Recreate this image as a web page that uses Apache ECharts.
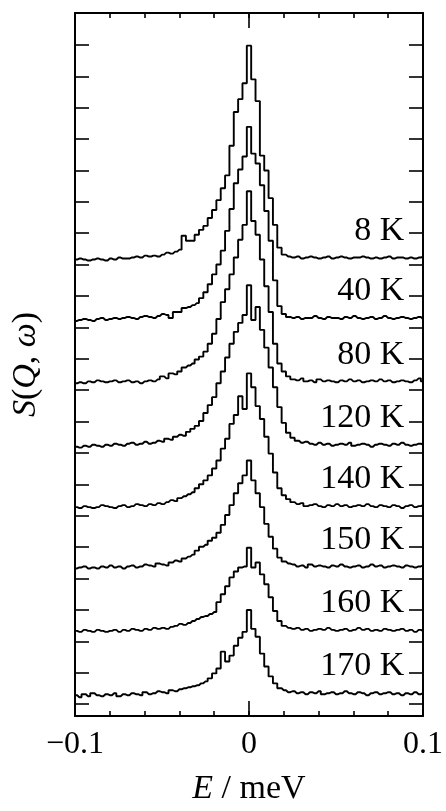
<!DOCTYPE html>
<html>
<head>
<meta charset="utf-8">
<script src="https://cdn.jsdelivr.net/npm/echarts@6.0.0/dist/echarts.min.js"></script>
<style>
  html, body { margin: 0; padding: 0; background: #fff; }
  #chart { width: 446px; height: 811px; }
</style>
</head>
<body>
<div id="chart"></div>
<script>
// bins of 0.0025 meV from -0.1 to 0.1 (81 bins)
const binWidth = 0.0025;
const energies = [];
for (let i = -40; i <= 40; i++) energies.push(+(i * binWidth).toFixed(4));

const temps = ['8 K', '40 K', '80 K', '120 K', '140 K', '150 K', '160 K', '170 K'];
// vertical offset of each spectrum (same units as y axis)
const offsets = [449, 388, 324, 260, 198, 137, 73, 9];

const s8K = [
  0, 1, 0, -1, 0, 1, 0, -1, 1, 0,
  2, 1, 1, 2, 3, 2, 4, 3, 4, 3,
  5, 7, 6, 8, 10, 24, 19, 19, 25, 30,
  34, 42, 50, 60, 72, 85, 115, 149, 162, 178,
  216,
  182, 160, 105, 90, 62, 35, 12, 5, 3, 2,
  3, 1, 2, 3, 2, 1, 2, 3, 1, 2,
  3, 2, 1, 2, 2, 3, 2, 1, 2, 1,
  2, 3, 1, 2, 2, 1, 2, 1, 2, 3];
const s40K = [
  -1, 0, 1, 0, -1, 1, 2, 0, 1, 2,
  1, 2, 3, 2, 1, 3, 4, 3, 2, 4,
  6, 5, 2, 8, 8, 12, 13, 15, 17, 22,
  28, 36, 46, 56, 70, 90, 112, 138, 152, 165,
  195,
  168, 158, 136, 110, 80, 40, 14, 6, 3, 2,
  3, 1, 2, 2, 4, 2, 1, 3, 2, 2,
  1, 3, 2, 4, 2, 1, 2, 3, 1, 2,
  4, 2, 1, 2, 3, 2, 1, 2, 3, 1];
const s80K = [
  0, 1, 0, 2, 1, 3, 2, 1, 2, 3,
  1, 2, 3, 1, 2, 0, 2, 3, 2, 4,
  7, 5, 10, 9, 12, 16, 18, 20, 24, 27,
  32, 40, 50, 65, 82, 95, 110, 127, 145, 160,
  194,
  164, 150, 125, 98, 72, 40, 20, 12, 7, 4,
  3, 5, 2, 3, 1, 4, 2, 3, 2, 1,
  3, 2, 4, 2, 3, 1, 2, 3, 2, 4,
  2, 3, 1, 2, 3, 2, 1, 3, 5, 2];
const s120K = [
  0, -1, 1, 0, 2, 1, 0, 2, 1, 3,
  2, 1, 3, 4, 2, 3, 5, 3, 4, 6,
  5, 8, 7, 10, 12, 11, 15, 18, 21, 26,
  34, 42, 50, 64, 76, 90, 104, 116, 125, 133,
  163,
  128, 141, 118, 100, 80, 60, 40, 24, 14, 9,
  6, 4, 5, 3, 2, 4, 2, 3, 1, 2,
  3, 2, 4, 1, 2, 3, 2, 0, 2, 3,
  2, 1, 3, 2, 4, 2, 1, 2, 3, 2];
const s140K = [
  1, 0, 2, 1, 0, 1, 3, 2, 1, 0,
  2, 3, 1, 2, 4, 3, 2, 4, 3, 5,
  4, 6, 8, 7, 10, 12, 14, 16, 20, 24,
  28, 33, 40, 48, 60, 70, 85, 94, 113, 100,
  136,
  122, 103, 90, 72, 55, 36, 20, 13, 9, 6,
  4, 5, 2, 3, 4, 2, 1, 3, 2, 4,
  2, 3, 1, 2, 3, 2, 4, 2, 1, 3,
  2, 1, 3, 2, 0, 2, 3, 1, 2, 3];
const s150K = [
  0, 1, 2, 0, 1, 0, 2, 1, 3, 1,
  2, 0, 2, 3, 1, 2, 4, 3, 2, 5,
  4, 3, 6, 8, 7, 10, 12, 14, 18, 22,
  24, 28, 31, 36, 44, 54, 64, 76, 86, 94,
  109,
  89, 76, 62, 45, 32, 20, 11, 7, 5, 4,
  2, 3, 1, 4, 2, 3, 2, 1, 3, 2,
  4, 2, 1, 2, 3, 1, 2, 4, 2, 3,
  1, 2, 3, 2, 1, 3, 2, 1, 2, 3];
const s160K = [
  1, 0, 2, 1, 0, 2, 1, 0, 1, 2,
  0, 2, 1, 3, 2, 1, 3, 2, 4, 3,
  4, 3, 5, 6, 8, 7, 9, 11, 13, 15,
  16, 18, 20, 30, 38, 46, 55, 61, 65, 66,
  85,
  65, 70, 58, 48, 35, 21, 11, 6, 4, 3,
  4, 2, 3, 1, 2, 3, 2, 4, 2, 1,
  2, 3, 1, 2, 4, 2, 3, 1, 2, 1,
  3, 2, 1, 2, 3, 1, 2, 0, 2, 1];
const s170K = [
  0, -2, 1, -1, 2, 0, -1, 1, 0, 2,
  -1, 1, 0, 2, 1, 0, 3, 1, 2, 4,
  3, 2, 5, 4, 6, 7, 8, 9, 10, 12,
  14, 17, 22, 27, 44, 34, 40, 50, 58, 64,
  86,
  67, 59, 42, 29, 19, 12, 7, 5, 3, 4,
  2, 3, 1, 3, 2, 4, 1, 2, 3, 1,
  2, 4, 2, 1, 3, 2, 0, 2, 3, 1,
  2, 3, 1, 2, 0, 2, 1, 3, 1, 2];
const spectra = [s8K, s40K, s80K, s120K, s140K, s150K, s160K, s170K];

const xTickLabels = [-0.1, 0, 0.1];
const yTicks = [0, 32, 63, 95, 127, 159, 190, 222, 254, 285, 317, 349, 380,
  412, 444, 476, 507, 539, 571, 602, 634, 666];

const serif = '"Liberation Serif", "DejaVu Serif", serif';
const black = '#000';

const chart = echarts.init(document.getElementById('chart'));

const series = spectra.map((vals, k) => ({
  name: temps[k],
  type: 'line',
  step: 'middle',
  showSymbol: false,
  animation: false,
  lineStyle: { color: black, width: 1.9 },
  data: vals.map((v, i) => [energies[i], offsets[k] + v])
}));

// temperature labels
series.push({
  type: 'scatter',
  symbolSize: 1,
  animation: false,
  silent: true,
  itemStyle: { opacity: 0 },
  data: temps.map((t, k) => ({ value: [0.0895, offsets[k] + 29], name: t })),
  label: {
    show: true,
    position: 'left',
    distance: 0,
    opacity: 1,
    formatter: p => p.name,
    fontFamily: serif,
    fontSize: 34,
    color: black
  }
});

const frameLine = { show: true, onZero: false, lineStyle: { color: black, width: 2 } };
const tickStyle = { color: black, width: 1.6 };

chart.setOption({
  backgroundColor: '#fff',
  animation: false,
  grid: { left: 75, right: 18, top: 13, bottom: 88 },
  xAxis: [
    {
      type: 'value', position: 'bottom', min: -0.1, max: 0.1, interval: 0.02,
      axisLine: frameLine,
      axisTick: { inside: true, length: 5, lineStyle: tickStyle },
      splitLine: { show: false },
      axisLabel: {
        customValues: xTickLabels,
        margin: 13,
        fontFamily: serif, fontSize: 32, color: black,
        formatter: v => (v < 0 ? '\u2212' : '') + Math.abs(v)
      },
      name: '{i|E} / meV',
      nameLocation: 'middle',
      nameGap: 56,
      nameTextStyle: {
        fontFamily: serif, fontSize: 34, color: black,
        rich: { i: { fontFamily: serif, fontSize: 34, fontStyle: 'italic', color: black } }
      }
    },
    {
      type: 'value', position: 'top', min: -0.1, max: 0.1, interval: 0.02,
      axisLine: frameLine,
      axisTick: { inside: true, length: 5, lineStyle: tickStyle },
      axisLabel: { show: false },
      splitLine: { show: false }
    },
    {
      type: 'value', position: 'bottom', min: -0.1, max: 0.1,
      axisLine: { show: false, onZero: false },
      axisTick: { inside: true, length: 15, customValues: [0], lineStyle: tickStyle },
      axisLabel: { show: false },
      splitLine: { show: false }
    },
    {
      type: 'value', position: 'top', min: -0.1, max: 0.1,
      axisLine: { show: false, onZero: false },
      axisTick: { inside: true, length: 15, customValues: [0], lineStyle: tickStyle },
      axisLabel: { show: false },
      splitLine: { show: false }
    }
  ],
  yAxis: [
    {
      type: 'value', position: 'left', min: -12, max: 698,
      axisLine: frameLine,
      axisTick: { inside: true, length: 14, customValues: yTicks, lineStyle: tickStyle },
      axisLabel: { show: false },
      splitLine: { show: false },
      name: '{i|S}({i|Q}, {i|\u03c9})',
      nameLocation: 'middle',
      nameGap: 32,
      nameTextStyle: {
        fontFamily: serif, fontSize: 34, color: black,
        rich: { i: { fontFamily: serif, fontSize: 34, fontStyle: 'italic', color: black } }
      }
    },
    {
      type: 'value', position: 'right', min: -12, max: 698,
      axisLine: frameLine,
      axisTick: { inside: true, length: 14, customValues: yTicks, lineStyle: tickStyle },
      axisLabel: { show: false },
      splitLine: { show: false }
    }
  ],
  series: series
});

window.addEventListener('resize', () => chart.resize());
</script>
</body>
</html>
